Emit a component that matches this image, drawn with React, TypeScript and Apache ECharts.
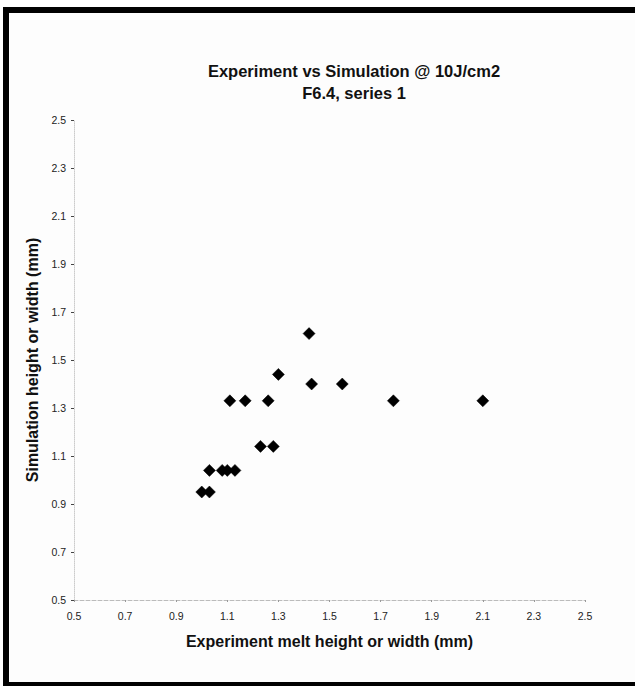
import React, { useEffect, useRef } from "react";
import * as echarts from "echarts";

const titleLines = ["Experiment vs Simulation @ 10J/cm2", "F6.4, series 1"];
const xAxisName = "Experiment melt height or width (mm)";
const yAxisName = "Simulation height or width (mm)";

const experiment = [1.0, 1.03, 1.03, 1.08, 1.1, 1.13, 1.11, 1.17, 1.26, 1.23, 1.28, 1.3, 1.42, 1.43, 1.55, 1.75, 2.1];
const simulation = [0.95, 0.95, 1.04, 1.04, 1.04, 1.04, 1.33, 1.33, 1.33, 1.14, 1.14, 1.44, 1.61, 1.4, 1.4, 1.33, 1.33];

const axisMin = 0.5;
const axisMax = 2.5;
const axisStep = 0.2;

export default function App() {
  const ref = useRef<HTMLDivElement>(null);
  useEffect(() => {
    if (!ref.current) return;
    const chart = echarts.init(ref.current, null, { renderer: "svg" });
    const points = experiment.map((x, i) => [x, simulation[i]]);
    const font = "'Liberation Sans', Arial, sans-serif";
    chart.setOption({
      animation: false,
      backgroundColor: "#fdfdfd",
      title: {
        text: titleLines.join("\n"),
        left: 349,
        textAlign: "center",
        top: 55,
        textStyle: {
          fontFamily: font,
          fontSize: 16.5,
          fontWeight: "bold",
          color: "#111",
          lineHeight: 22,
        },
      },
      grid: { left: 74, right: 50, top: 120, bottom: 86 },
      xAxis: {
        type: "value",
        min: axisMin,
        max: axisMax,
        interval: axisStep,
        name: xAxisName,
        nameLocation: "middle",
        nameGap: 33,
        nameTextStyle: { fontFamily: font, fontSize: 16, fontWeight: "bold", color: "#111" },
        axisLine: { show: true, lineStyle: { color: "#bbb", type: "dashed", width: 1 } },
        axisTick: { show: true, length: 2, lineStyle: { color: "#999" } },
        axisLabel: {
          margin: 10,
          fontFamily: font,
          fontSize: 10.5,
          color: "#222",
          formatter: (v: number) => v.toFixed(1),
        },
        splitLine: { show: false },
      },
      yAxis: {
        type: "value",
        min: axisMin,
        max: axisMax,
        interval: axisStep,
        name: yAxisName,
        nameLocation: "middle",
        nameGap: 19,
        nameRotate: 90,
        nameTextStyle: { fontFamily: font, fontSize: 16, fontWeight: "bold", color: "#111" },
        axisLine: { show: true, lineStyle: { color: "#ccc", type: "dotted", width: 1 } },
        axisTick: { show: true, length: 3, lineStyle: { color: "#444" } },
        axisLabel: {
          margin: 8,
          fontFamily: font,
          fontSize: 10.5,
          color: "#222",
          formatter: (v: number) => v.toFixed(1),
        },
        splitLine: { show: false },
      },
      series: [
        {
          type: "scatter",
          data: points,
          symbol: "diamond",
          symbolSize: [12, 12],
          itemStyle: { color: "#000", borderColor: "#000", borderWidth: 0.5, opacity: 1 },
        },
      ],
      graphic: [
        { type: "rect", shape: { x: 3, y: 7, width: 632, height: 6 }, style: { fill: "#000" } },
        { type: "rect", shape: { x: 3, y: 7, width: 6, height: 679 }, style: { fill: "#000" } },
        { type: "rect", shape: { x: 3, y: 682, width: 632, height: 4 }, style: { fill: "#000" } },
      ],
    });
    return () => chart.dispose();
  }, []);
  return (
    <div
      ref={ref}
      style={{ position: "fixed", left: 0, top: 0, width: 635, height: 686 }}
    />
  );
}
